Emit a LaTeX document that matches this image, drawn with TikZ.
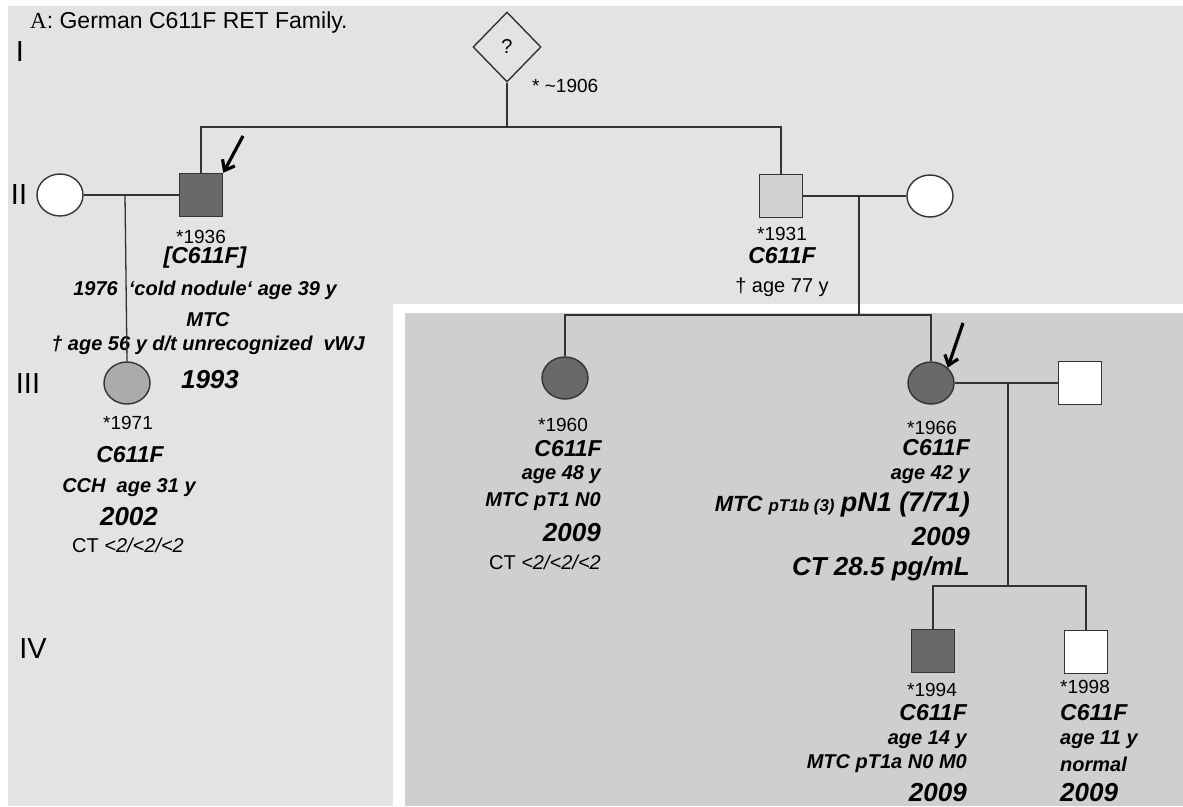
\documentclass[tikz,border=0pt]{standalone}
\usepackage{fontspec}
\setmainfont{Liberation Sans}
\newfontfamily\titleserif{Liberation Serif}
\usepackage{tikz}
\usetikzlibrary{positioning,arrows.meta,shapes.geometric}
\definecolor{fondo}{gray}{.89}
\definecolor{fondoin}{gray}{.81}
\definecolor{oscuro}{gray}{.41}
\definecolor{medio}{gray}{.67}
\definecolor{claro}{gray}{.82}
\definecolor{linea}{gray}{.20}

\begin{document}
\begin{tikzpicture}[
    x=1pt, y=-1pt,
    male/.style={rectangle, draw=linea, line width=1.4pt, minimum size=43pt, inner sep=0pt},
    female/.style={ellipse, draw=linea, line width=1.4pt, minimum width=46pt, minimum height=42pt, inner sep=0pt},
    unknown/.style={diamond, draw=linea, line width=1.4pt, minimum width=68pt, minimum height=70pt, inner sep=0pt,
      font=\fontsize{20}{24}\selectfont},
    lbl/.style={inner sep=0pt, font=\fontsize{19}{22}\selectfont},
    mut/.style={inner sep=0pt, font=\fontsize{23}{26}\selectfont\bfseries\itshape},
    note/.style={inner sep=0pt, font=\fontsize{20}{24}\selectfont\bfseries\itshape},
    yr/.style={inner sep=0pt, font=\fontsize{26}{30}\selectfont\bfseries\itshape},
    gen/.style={inner sep=0pt, font=\fontsize{29}{32}\selectfont},
    rel/.style={draw=linea, line width=1.3pt},
    proband/.style={draw=black, line width=3.2pt, -{Straight Barb[length=9pt,width=14pt]}}
  ]
    \useasboundingbox (0,0) rectangle (1183,806);
    % panels
    \fill[fondo] (8,6) rectangle (1183,806);
    \fill[white] (393,304) rectangle (1183,806);
    \fill[fondoin] (405,313) rectangle (1183,806);

    \node[anchor=west, inner sep=0pt, font=\fontsize{23}{27}\selectfont] (titulo) at (30,23)
      {{\titleserif A}: German C611F RET Family.};
    \node[gen] (genI) at (20,52) {I};
    \node[gen] (genII) at (19,195) {II};
    \node[gen] (genIII) at (28,384) {III};
    \node[gen] (genIV) at (33,649) {IV};

    % generation I
    \node[unknown] (q1906) at (507,47) {?};
    \node[lbl, anchor=west] (b1906) at (532,86) {* \textasciitilde1906};

    % generation II
    \node[female, fill=white] (w2a) at (60,195) {};
    \node[male, fill=oscuro] (m1936) at (201,195) {};
    \node[male, fill=claro] (m1931) at (781,196) {};
    \node[female, fill=white] (w2b) at (930,196) {};

    \node[lbl] (b1936) at (201,237) {*1936};
    \node[mut] (g1936) at (205,258) {[C611F]};
    \node[note] (n1936a) at (205,290) {1976 \ ‘cold nodule‘ age 39 y};
    \node[note] (n1936b) at (208,320) {MTC};
    \node[note] (n1936c) at (208,345) {† age 56 y d/t unrecognized \ vWJ};
    \node[yr] (y1936) at (210,380) {1993};

    \node[lbl] (b1931) at (782,234) {*1931};
    \node[mut] (g1931) at (782,256) {C611F};
    \node[lbl, font=\fontsize{20}{24}\selectfont] (d1931) at (782,287) {† age 77 y};

    % generation III
    \node[female, fill=medio] (f1971) at (127,383) {};
    \node[female, fill=oscuro] (f1960) at (565,378) {};
    \node[female, fill=oscuro] (f1966) at (931,383) {};
    \node[male, fill=white] (m3b) at (1080,383) {};

    \node[lbl] (b1971) at (128,423) {*1971};
    \node[mut] (g1971) at (130,455) {C611F};
    \node[note] (n1971) at (129,488) {CCH \ age 31 y};
    \node[yr] (y1971) at (129,517) {2002};
    \node[lbl, font=\fontsize{20}{24}\selectfont] (ct1971) at (128,545) {CT \textit{<2/<2/<2}};

    \node[lbl] (b1960) at (563,425) {*1960};
    \node[mut, anchor=east] (g1960) at (602,449) {C611F};
    \node[note, anchor=east] (a1960) at (601,475) {age 48 y};
    \node[note, anchor=east] (n1960) at (601,502) {MTC pT1 N0};
    \node[yr, anchor=east] (y1960) at (601,533) {2009};
    \node[lbl, anchor=east, font=\fontsize{20}{24}\selectfont] (ct1960) at (601,562) {CT \textit{<2/<2/<2}};

    \node[lbl] (b1966) at (932,428) {*1966};
    \node[mut, anchor=east] (g1966) at (970,448) {C611F};
    \node[note, anchor=east] (a1966) at (970,475) {age 42 y};
    \node[note, anchor=east, font=\fontsize{22}{26}\selectfont\bfseries\itshape] (n1966) at (970,505)
      {MTC {\fontsize{17}{20}\selectfont pT1b (3)} {\fontsize{27}{30}\selectfont pN1 (7/71)}};
    \node[yr, anchor=east] (y1966) at (970,537) {2009};
    \node[yr, anchor=east] (ct1966) at (970,569) {CT 28.5 pg/mL};

    % generation IV
    \node[male, fill=oscuro] (m1994) at (933,651) {};
    \node[male, fill=white] (m1998) at (1086,652) {};

    \node[lbl] (b1994) at (932,690) {*1994};
    \node[mut, anchor=east] (g1994) at (967,713) {C611F};
    \node[note, anchor=east] (a1994) at (967,740) {age 14 y};
    \node[note, anchor=east] (n1994) at (967,764) {MTC pT1a N0 M0};
    \node[yr, anchor=east] (y1994) at (967,793) {2009};

    \node[lbl] (b1998) at (1085,687) {*1998};
    \node[mut, anchor=west] (g1998) at (1060,713) {C611F};
    \node[note, anchor=west] (a1998) at (1060,740) {age 11 y};
    \node[note, anchor=west] (n1998) at (1060,764) {normal};
    \node[yr, anchor=west] (y1998) at (1060,793) {2009};

    % lines of descent
    \coordinate (sib2) at (507,127);
    \draw[rel] (q1906.south) -- (sib2);
    \draw[rel] (m1936.north) |- (sib2) -| (m1931.north);

    \draw[rel] (w2a.east) -- (m1936.west);
    \coordinate (c2a) at (125,195);
    \draw[rel] (c2a) -- (f1971.north);

    \draw[rel] (m1931.east) -- (w2b.west);
    \coordinate (c2b) at (859,196);
    \coordinate (sib3) at (859,315);
    \draw[rel] (c2b) -- (sib3);
    \draw[rel] (f1960.north) |- (sib3) -| (f1966.north);

    \draw[rel] (f1966.east) -- (m3b.west);
    \coordinate (c3b) at (1008,383);
    \coordinate (sib4) at (1008,586);
    \draw[rel] (c3b) -- (sib4);
    \draw[rel] (m1994.north) |- (sib4) -| (m1998.north);

    % probands
    \coordinate (pa1) at (243,136);
    \coordinate (pa2) at (963,323);
    \draw[proband] (pa1) -- (m1936.north east);
    \draw[proband] (pa2) -- (f1966.north east);
  \end{tikzpicture}
\end{document}
